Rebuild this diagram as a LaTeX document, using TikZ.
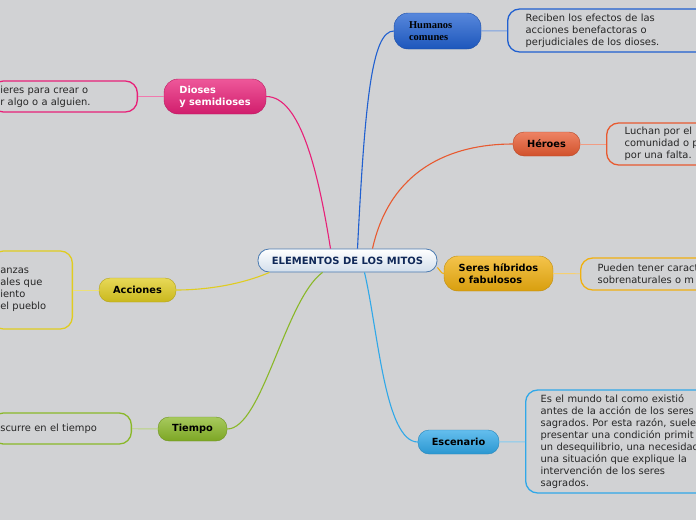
\documentclass[tikz,border=0pt]{standalone}
\usepackage{fontspec}
\setmainfont{DejaVu Sans}
\newfontfamily\serifb{Liberation Serif}
\usetikzlibrary{positioning}
\frenchspacing

\definecolor{bg}{RGB}{209,210,212}
\definecolor{rootline}{RGB}{74,122,176}
\definecolor{roottext}{RGB}{16,40,88}
\definecolor{humc}{RGB}{32,96,208}
\definecolor{dioc}{RGB}{232,32,120}
\definecolor{herc}{RGB}{232,90,48}
\definecolor{serc}{RGB}{240,176,16}
\definecolor{accc}{RGB}{224,204,32}
\definecolor{tiec}{RGB}{138,184,40}
\definecolor{escc}{RGB}{48,168,232}

\begin{document}
\begin{tikzpicture}[x=1pt, y=-1pt,
    topic/.style={rounded corners=11pt, draw=#1!80!black, line width=0.4pt,
        top color=#1!75!white, bottom color=#1!90!black, font=\fontsize{9.8}{12}\selectfont\bfseries,
        align=left, inner xsep=8pt, inner ysep=4pt, minimum height=24pt},
    sub/.style={draw=#1, rounded corners=12pt, line width=1.3pt, fill=bg, align=left,
        font=\fontsize{9.9}{12.1}\selectfont, text=black!85},
    branch/.style={draw=#1, line width=1.1pt},
    twig/.style={draw=#1!60!white, line width=0.9pt}
]
\useasboundingbox (0,0) rectangle (696,520);
\clip (0,0) rectangle (696,520);
\fill[bg] (0,0) rectangle (696,520);

% centre
\node[rounded corners=11pt, draw=rootline, line width=0.8pt, top color=white, bottom color=rootline!25!white,
    font=\fontsize{10}{12}\selectfont\bfseries, text=roottext, minimum width=179pt, minimum height=23pt]
    (root) at (347.5,260.5) {ELEMENTOS DE LOS MITOS};

% main topics
\node[topic=humc, text=black, font=\fontsize{10.5}{12.5}\serifb\bfseries, text width=57pt, minimum width=87pt, minimum height=36pt, rounded corners=14pt]
    (hum) at (437.5,31) {Humanos\\comunes};
\node[topic=dioc, text=white, minimum width=102pt, minimum height=35pt, rounded corners=14pt]
    (dio) at (215,96.5) {Dioses\\y semidioses};
\node[topic=herc, text=black, minimum width=67pt] (her) at (546.5,144) {Héroes};
\node[topic=serc, text=black, minimum width=109pt, minimum height=35pt, rounded corners=14pt]
    (ser) at (498.5,273.5) {Seres híbridos\\o fabulosos};
\node[topic=accc, text=black, minimum width=77pt] (acc) at (137.5,290) {Acciones};
\node[topic=tiec, text=black, minimum width=69pt] (tie) at (192.5,429) {Tiempo};
\node[topic=escc, text=black, minimum width=81pt] (esc) at (458.5,442) {Escenario};

% details
\node[sub=humc, anchor=west, text width=250pt, inner xsep=18pt, minimum height=43pt] (humd) at (507,30.5)
    {Reciben los efectos de las\\acciones benefactoras o\\perjudiciales de los dioses.};
\node[sub=dioc, anchor=east, text width=128pt, inner xsep=9pt, minimum height=31pt] (diod) at (138,96.5)
    {ieres para crear o\\r algo o a alguien.};
\node[sub=herc, anchor=west, text width=150pt, inner xsep=18pt, minimum height=42pt] (herd) at (606,144)
    {Luchan por el\\comunidad o p\\por una falta.};
\node[sub=serc, anchor=west, text width=200pt, inner xsep=17pt, minimum height=32pt] (serd) at (580,274)
    {Pueden tener caract\\sobrenaturales o m};
\node[sub=accc, anchor=east, text width=63pt, inner xsep=9pt, minimum height=78pt] (accd) at (73,290)
    {anzas\\ales que\\iento\\el pueblo};
\node[sub=tiec, anchor=east, text width=122pt, inner xsep=9pt, minimum height=31pt] (tied) at (132,428.5)
    {scurre en el tiempo};
\node[sub=escc, anchor=west, text width=250pt, inner xsep=15pt, minimum height=103pt, inner ysep=2pt] (escd) at (525,441.5)
    {Es el mundo tal como existió\\antes de la acción de los seres\\sagrados. Por esta razón, suele\\presentar una condición primit\\un desequilibrio, una necesidad\\una situación que explique la\\intervención de los seres\\sagrados.};

% branches
\draw[branch=humc] ([xshift=10pt]root.north) .. controls (365,100) and (372,31) .. (hum.west);
\draw[branch=dioc] ([xshift=-17pt]root.north) .. controls (318,170) and (300,96.5) .. (dio.east);
\draw[branch=herc] ([xshift=25pt]root.north) .. controls (390,170) and (450,144) .. (her.west);
\draw[branch=serc] ([yshift=-7pt]root.east) .. controls (440,270) and (441,273.5) .. (ser.west);
\draw[branch=accc] ([xshift=-78pt]root.south) .. controls (240,285) and (205,290) .. (acc.east);
\draw[branch=tiec] ([xshift=-25pt]root.south) .. controls (285,300) and (262,429) .. (tie.east);
\draw[branch=escc] ([xshift=17pt]root.south) .. controls (378,330) and (385,442) .. (esc.west);

\draw[twig=humc] (hum) -- (humd);
\draw[twig=dioc] (dio) -- (diod);
\draw[twig=herc] (her) -- (herd);
\draw[twig=serc] (ser) -- (serd);
\draw[twig=accc] (acc) -- (accd);
\draw[twig=tiec] (tie) -- (tied);
\draw[twig=escc] (esc) -- (escd);
\end{tikzpicture}
\end{document}
